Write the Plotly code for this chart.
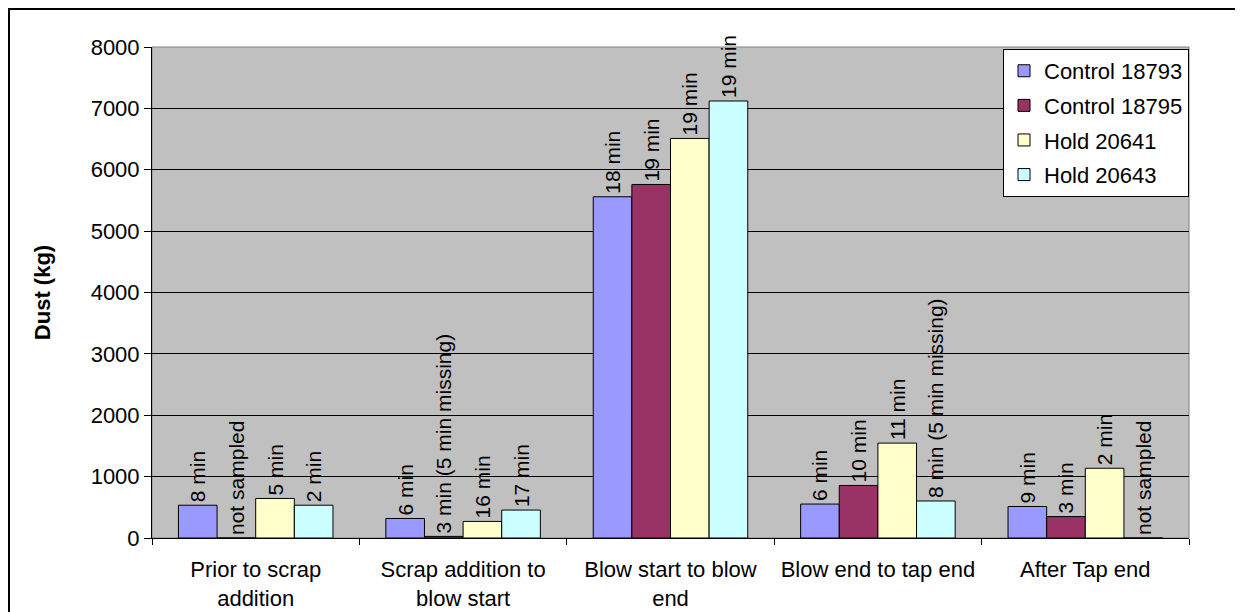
import plotly.graph_objects as go

categories = ["Prior to scrap<br>addition", "Scrap addition to<br>blow start",
              "Blow start to blow<br>end", "Blow end to tap end", "After Tap end"]

series_names = ["Control 18793", "Control 18795", "Hold 20641", "Hold 20643"]

control_18793 = [534, 318, 5560, 553, 513]
control_18795 = [0, 26, 5760, 856, 349]
hold_20641 = [644, 270, 6510, 1546, 1136]
hold_20643 = [534, 455, 7120, 603, 0]

labels_18793 = ["8 min", "6 min", "18 min", "6 min", "9 min"]
labels_18795 = ["not sampled", "3 min (5 min missing)", "19 min", "10 min", "3 min"]
labels_20641 = ["5 min", "16 min", "19 min", "11 min", "2 min"]
labels_20643 = ["2 min", "17 min", "19 min", "8 min (5 min missing)", "not sampled"]

colors = ["#9999FF", "#993366", "#FFFFCC", "#CCFFFF"]

FONT = "Liberation Sans, Arial, sans-serif"

fig = go.Figure()
for name, vals, labs, col in zip(series_names,
                                 [control_18793, control_18795, hold_20641, hold_20643],
                                 [labels_18793, labels_18795, labels_20641, labels_20643],
                                 colors):
    fig.add_trace(go.Bar(
        name=name, x=categories, y=vals, text=labs,
        textposition="outside", textangle=-90, constraintext="none",
        cliponaxis=False,
        textfont=dict(family=FONT, size=21, color="black"),
        marker=dict(color=col, line=dict(color="black", width=1)),
        legendgroup=name,
    ))

# page has an 8px body margin; figure is sized/margined to land at the reference pixel positions
fig.update_layout(
    width=1235, height=604,
    margin=dict(l=144, r=54, t=39, b=74),
    paper_bgcolor="white",
    plot_bgcolor="#C0C0C0",
    barmode="group", bargap=0.255, bargroupgap=0,
    font=dict(family=FONT, size=22, color="black"),
    showlegend=True,
    legend=dict(x=1.0, xanchor="right", y=0.996, yanchor="top",
                bgcolor="white", bordercolor="black", borderwidth=1,
                font=dict(family=FONT, size=22, color="black"),
                tracegroupgap=3, traceorder="grouped"),
    shapes=[
        dict(type="rect", xref="paper", yref="paper", x0=0, x1=1, y0=0, y1=1,
             line=dict(color="#808080", width=1), layer="below"),
        dict(type="rect", xref="paper", yref="paper", x0=-0.1379, x1=1.1,
             y0=-0.2, y1=1.0774, line=dict(color="black", width=2)),
    ],
)

fig.update_xaxes(
    automargin=False,
    showline=True, linecolor="black", linewidth=1,
    ticks="outside", tickson="boundaries", ticklen=6, tickcolor="black",
    tickfont=dict(family=FONT, size=22, color="black"),
    ticklabelstandoff=12,
    showgrid=False,
)
fig.update_yaxes(
    automargin=False,
    range=[0, 8000], dtick=1000,
    showline=True, linecolor="black", linewidth=1,
    ticks="outside", ticklen=7, tickcolor="black",
    showgrid=True, gridcolor="black", gridwidth=1,
    zeroline=False,
    tickfont=dict(family=FONT, size=22, color="black"),
    title=dict(text="<b>Dust (kg)</b>", font=dict(family=FONT, size=22, color="black"),
               standoff=33),
)

fig.write_html("out.html")
